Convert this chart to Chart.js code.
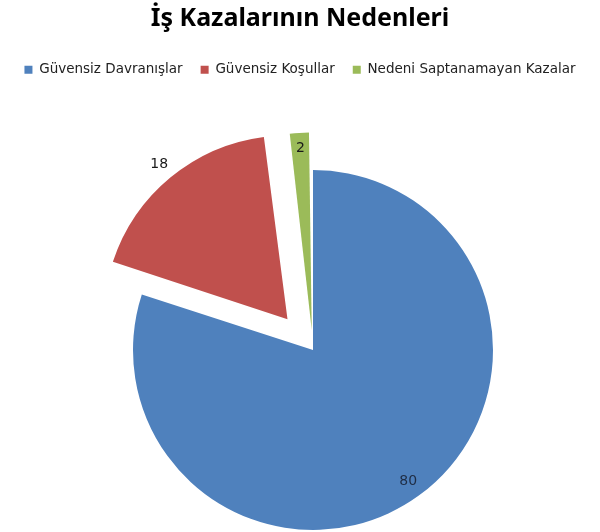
<!DOCTYPE html>
<html>
<head>
<meta charset="utf-8">
<script src="https://cdn.jsdelivr.net/npm/chart.js@4.4.0/dist/chart.umd.min.js"></script>
<style>
  html, body { margin: 0; padding: 0; background: #fff; }
  #wrap { width: 600px; height: 532px; }
</style>
</head>
<body>
<div id="wrap"><canvas id="chart_pie"></canvas></div>
<script>
const kategoriler = ['Güvensiz Davranışlar', 'Güvensiz Koşullar', 'Nedeni Saptanamayan Kazalar'];
const degerler = [80, 18, 2];
const renkler = ['#4F81BD', '#C0504D', '#9BBB59'];
const ayrilma = [0, 160, 80]; // dilimlerin merkezden uzaklığı (Chart.js v4 offset/4 kaydırıyor)

// Grafik alanını orijinaldeki gibi biraz sağa ve aşağı kaydır
const alanPlugin = {
    id: 'alan',
    afterLayout(chart, args, opts) {
        const a = chart.chartArea;
        a.left = opts.left;
        a.top = opts.top;
        a.width = a.right - a.left;
        a.height = a.bottom - a.top;
    }
};

// Dilim etiketleri (datalabels eklentisi yok, elle çiziliyor)
const etiketPlugin = {
    id: 'etiketler',
    afterDatasetsDraw(chart, args, opts) {
        const ctx = chart.ctx;
        const meta = chart.getDatasetMeta(0);
        ctx.save();
        ctx.font = opts.font;
        ctx.textAlign = 'center';
        ctx.textBaseline = 'middle';
        meta.data.forEach((arc, i) => {
            const p = arc.getProps(['x', 'y', 'startAngle', 'endAngle', 'outerRadius']);
            const orta = (p.startAngle + p.endAngle) / 2;
            const r = p.outerRadius * opts.oran[i];
            ctx.fillStyle = opts.color[i];
            ctx.fillText(chart.data.datasets[0].data[i], p.x + Math.cos(orta) * r, p.y + Math.sin(orta) * r);
        });
        ctx.restore();
    }
};

new Chart(document.getElementById('chart_pie'), {
    type: 'pie',
    data: {
        labels: kategoriler,
        datasets: [{
            data: degerler,
            backgroundColor: renkler,
            borderWidth: 0,
            offset: ayrilma
        }]
    },
    options: {
        responsive: true,
        maintainAspectRatio: false,
        animation: false,
        radius: 180,
        layout: {
            padding: 0
        },
        plugins: {
            title: {
                display: true,
                text: 'İş Kazalarının Nedenleri',
                color: '#000',
                font: { family: 'Noto Sans', size: 25, weight: 'bold' },
                padding: { top: 4, bottom: 11 }
            },
            legend: {
                display: true,
                position: 'top',
                labels: {
                    boxWidth: 8,
                    boxHeight: 8,
                    padding: 18,
                    color: '#222',
                    font: { family: 'DejaVu Sans', size: 13.5 }
                }
            },
            tooltip: { enabled: false },
            alan: { left: 26, top: 168 },
            etiketler: {
                oran: [0.9, 1.34, 1.12],
                color: ['#1F2D45', '#1a1a1a', '#1a1a1a'],
                font: '14px "DejaVu Sans"'
            }
        }
    },
    plugins: [alanPlugin, etiketPlugin]
});
</script>
</body>
</html>
